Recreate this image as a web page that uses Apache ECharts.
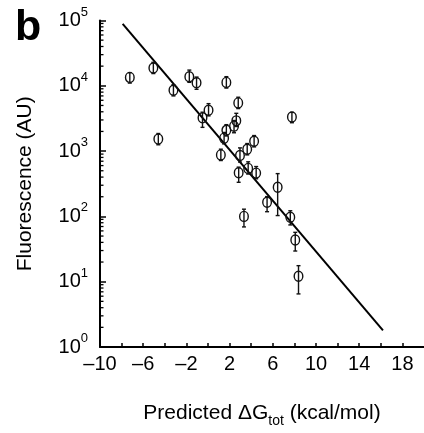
<!DOCTYPE html>
<html>
<head>
<meta charset="utf-8">
<script src="https://cdn.jsdelivr.net/npm/echarts@6/dist/echarts.min.js"></script>
<style>
  html, body { margin: 0; padding: 0; background: #fff; }
  #chart { width: 424px; height: 433px; }
</style>
</head>
<body>
<div id="chart"></div>
<script>
// predicted dG (kcal/mol) of each construct
var dG = [-7.24, -5.06, -3.20, -1.73, -1.06, -4.60, 1.70, 2.80, 0.05, -0.51,
          2.62, 2.41, 1.70, 1.49, 4.27, 3.63, 1.19, 2.96, 7.77, 3.72,
          2.84, 4.46, 6.45, 5.47, 3.33, 7.62, 8.08, 8.38];
// measured fluorescence (AU)
var fluor = [13450, 18770, 8550, 13770, 11160, 1527, 11270, 5470, 4220, 3230,
             2905, 2410, 2082, 1578, 1414, 1069, 875, 858, 3320, 543,
             465, 460, 279, 165, 100, 97, 43.6, 12.1];
// error bar ends
var errLow = [11000, 15400, 7000, 11300, 8840, 1250, 9230, 4480, 3460, 2310,
              2380, 1910, 1705, 1290, 1160, 875, 717, 680, 2720, 445,
              333, 377, 103, 118, 69, 74, 29.5, 6.5];
var errHigh = [15900, 22900, 10400, 17400, 13600, 1860, 13800, 6680, 5330, 3940,
               3790, 2940, 2540, 1930, 1730, 1305, 1070, 1120, 3920, 685,
               568, 580, 452, 201, 129, 122, 57, 17.6];
// fitted line end points [dG, fluorescence]
var fitLine = [[-7.9, 89000], [16.2, 1.8]];

var FONT = 'Liberation Sans, Arial, Helvetica, sans-serif';

// minor log ticks 2..9 per decade
var minorTicks = [];
for (var d = 0; d < 5; d++) {
  for (var m = 2; m < 10; m++) minorTicks.push(m * Math.pow(10, d));
}

var points = dG.map(function (x, i) {
  return [x, fluor[i], errLow[i], errHigh[i]];
});

var chart = echarts.init(document.getElementById('chart'));

chart.setOption({
  backgroundColor: '#fff',
  animation: false,
  graphic: [{
    type: 'text', left: 15, top: 7,
    style: { text: 'b', font: 'bold 43px ' + FONT, fill: '#000' }
  }],
  grid: { left: 100, top: 20.5, right: -2, bottom: 67 },
  xAxis: {
    type: 'value',
    min: -10, max: 20, interval: 2,
    name: 'Predicted \u0394G{sub|tot} (kcal/mol)',
    nameLocation: 'middle',
    nameGap: 51,
    nameTextStyle: {
      color: '#000', fontFamily: FONT, fontSize: 21, lineHeight: 30,
      rich: { sub: { fontSize: 14, lineHeight: 14, verticalAlign: 'bottom', fontFamily: FONT, color: '#000' } }
    },
    axisLine: { show: true, onZero: false, lineStyle: { color: '#000', width: 2 } },
    axisTick: { show: true, inside: true, length: 4, lineStyle: { color: '#000', width: 1.5 } },
    axisLabel: {
      color: '#000', fontFamily: FONT, fontSize: 20, margin: 7,
      showMaxLabel: false,
      formatter: function (v) {
        if ((v + 10) % 4 !== 0 || v > 18) return '';
        return v < 0 ? '\u2013' + Math.abs(v) : String(v);
      }
    },
    splitLine: { show: false }
  },
  yAxis: {
    type: 'log', logBase: 10,
    min: 1, max: 100000, splitNumber: 5,
    name: 'Fluorescence (AU)',
    nameLocation: 'middle',
    nameRotate: 90,
    nameGap: 64,
    nameTextStyle: { color: '#000', fontFamily: FONT, fontSize: 21 },
    axisLine: { show: true, onZero: false, lineStyle: { color: '#000', width: 2 } },
    axisTick: { show: true, inside: true, length: 6, lineStyle: { color: '#000', width: 1.5 } },
    axisLabel: {
      margin: 12,
      formatter: function (v) {
        return '{b|10}{s|' + Math.round(Math.log10(v)) + '}';
      },
      rich: {
        b: { fontFamily: FONT, fontSize: 20, lineHeight: 30, color: '#000' },
        s: { fontFamily: FONT, fontSize: 13, lineHeight: 15, verticalAlign: 'top', color: '#000' }
      }
    },
    splitLine: { show: false }
  },
  series: [
    {
      // minor ticks of the log axis
      type: 'custom',
      silent: true,
      data: minorTicks.map(function (v) { return [-10, v]; }),
      renderItem: function (params, api) {
        var p = api.coord([api.value(0), api.value(1)]);
        return {
          type: 'line',
          shape: { x1: p[0], y1: p[1], x2: p[0] + 3.5, y2: p[1] },
          style: { stroke: '#000', lineWidth: 1.3 }
        };
      }
    },
    {
      type: 'line',
      data: fitLine,
      symbol: 'none',
      lineStyle: { color: '#000', width: 2 },
      z: 3
    },
    {
      type: 'custom',
      data: points,
      z: 4,
      renderItem: function (params, api) {
        var c = api.coord([api.value(0), api.value(1)]);
        var lo = api.coord([api.value(0), api.value(2)]);
        var hi = api.coord([api.value(0), api.value(3)]);
        var st = { stroke: '#111', lineWidth: 1.4 };
        return {
          type: 'group',
          children: [
            { type: 'line', shape: { x1: c[0], y1: hi[1], x2: c[0], y2: lo[1] }, style: st },
            { type: 'line', shape: { x1: c[0] - 2, y1: hi[1], x2: c[0] + 2, y2: hi[1] }, style: st },
            { type: 'line', shape: { x1: c[0] - 2, y1: lo[1], x2: c[0] + 2, y2: lo[1] }, style: st },
            { type: 'ellipse', shape: { cx: c[0], cy: c[1], rx: 4.3, ry: 5 }, style: { fill: null, stroke: '#111', lineWidth: 1.4 } }
          ]
        };
      }
    }
  ]
});
</script>
</body>
</html>
